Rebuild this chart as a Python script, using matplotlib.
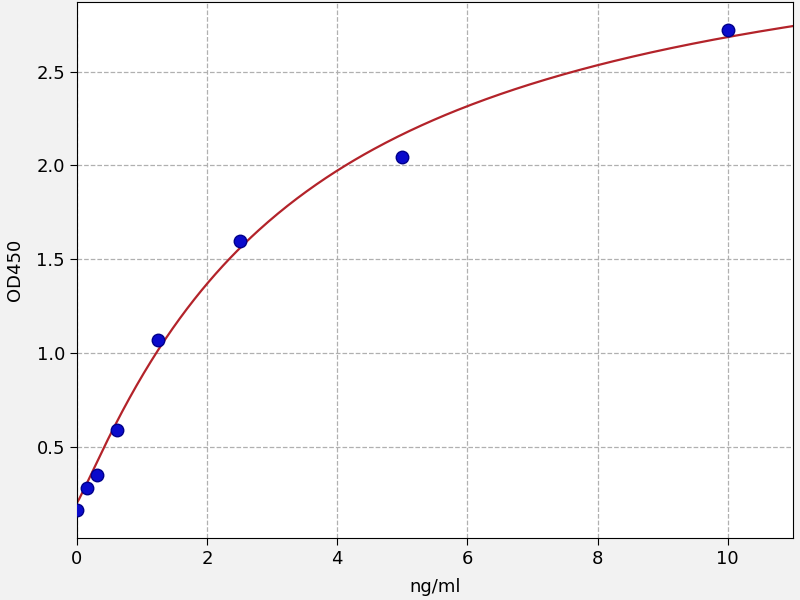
import numpy as np
import matplotlib
matplotlib.use("Agg")
import matplotlib.pyplot as plt

# standard concentrations and measured OD
conc = [0, 0.156, 0.3125, 0.625, 1.25, 2.5, 5, 10]
od450 = [0.162, 0.283, 0.349, 0.589, 1.069, 1.598, 2.047, 2.722]

# fitted curve parameters (4PL)
fit_bottom = 0.2
fit_top = 3.43
fit_mid = 3.35
fit_slope = 1.1


def four_pl(x):
    return fit_top + (fit_bottom - fit_top) / (1 + (x / fit_mid) ** fit_slope)


def main():
    fig = plt.figure(figsize=(8, 6), dpi=100, facecolor="#f2f2f2")
    ax = fig.add_axes([0.096, 0.103, 0.895, 0.894])

    xs = np.linspace(0, 11, 300)
    ax.plot(xs, four_pl(xs), color="#b3232a", lw=1.6, zorder=2)
    ax.plot(conc, od450, "o", color="#0a0acc", mec="#00008b", ms=9, zorder=3)

    ax.set_xlim(0, 11)
    ax.set_ylim(0.013, 2.872)
    ax.set_yticks([0.5, 1.0, 1.5, 2.0, 2.5])
    ax.set_xticks([0, 2, 4, 6, 8, 10])
    ax.grid(True, color="#b0b0b0", linestyle="--", linewidth=0.9)
    ax.tick_params(labelsize=13, length=5)
    ax.set_xlabel("ng/ml", fontsize=13, labelpad=7)
    ax.set_ylabel("OD450", fontsize=13, labelpad=9)

    fig.savefig("out.png", facecolor=fig.get_facecolor())


if __name__ == "__main__":
    main()
